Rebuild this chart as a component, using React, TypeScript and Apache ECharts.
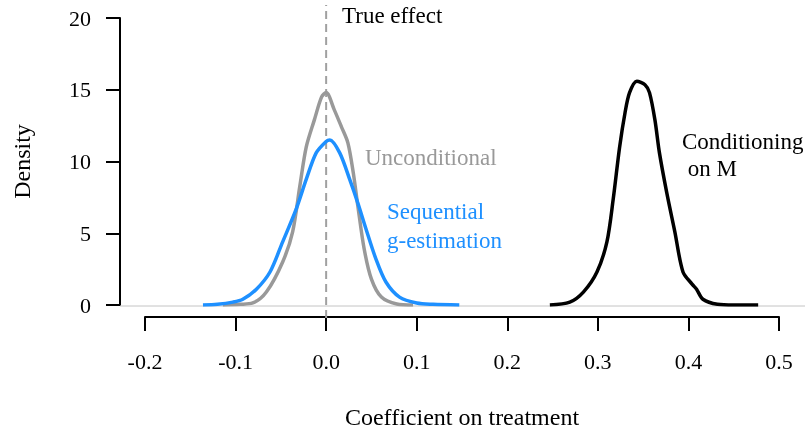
import React, { useEffect, useRef } from "react";
import * as echarts from "echarts";

// Unconditional (gray) density curve: [coefficient, density]
const uncondX = [-0.114, -0.095, -0.081, -0.066, -0.048, -0.037, -0.029, -0.022, -0.013, -0.005, 0.0, 0.009, 0.017, 0.024, 0.03, 0.035, 0.042, 0.05, 0.061, 0.078, 0.096];
const uncondY = [0.0, 0.05, 0.14, 0.9, 3.0, 5.1, 8.3, 11.0, 12.9, 14.5, 14.8, 13.6, 12.4, 11.3, 9.2, 6.9, 3.9, 1.8, 0.55, 0.07, 0.0];

// Sequential g-estimation (blue) density curve
const seqX = [-0.136, -0.12, -0.103, -0.092, -0.077, -0.062, -0.048, -0.033, -0.022, -0.011, 0.0, 0.004, 0.015, 0.026, 0.035, 0.044, 0.055, 0.066, 0.081, 0.1, 0.118, 0.147];
const seqY = [0.0, 0.05, 0.2, 0.4, 1.1, 2.3, 4.4, 6.7, 8.75, 10.6, 11.4, 11.5, 10.6, 8.75, 7.1, 5.3, 3.2, 1.6, 0.55, 0.14, 0.05, 0.0];

// Conditioning on M (black) density curve
const condX = [0.247, 0.269, 0.284, 0.299, 0.31, 0.317, 0.324, 0.33, 0.335, 0.343, 0.352, 0.357, 0.363, 0.368, 0.376, 0.385, 0.394, 0.404, 0.409, 0.416, 0.432, 0.45, 0.477];
const condY = [0.0, 0.2, 0.9, 2.3, 4.4, 7.4, 11.0, 13.4, 14.8, 15.6, 15.35, 14.8, 12.9, 10.6, 7.85, 5.1, 2.3, 1.46, 1.1, 0.4, 0.05, 0.0, 0.0];

// Axes
const xTicks = [-0.2, -0.1, 0.0, 0.1, 0.2, 0.3, 0.4, 0.5];
const yTicks = [0, 5, 10, 15, 20];
const trueEffect = 0.0;

const FONT = "'Liberation Serif', 'Times New Roman', serif";

// layout (pixels)
const W = 812;
const H = 434;
const plotLeft = 145;
const plotRight = 779;
const plotTop = 18;
const plotBottom = 306;
const outerLeft = 120;
const outerRight = 805;
const outerTop = 5;
const outerBottom = 318;

const zip = (xs: number[], ys: number[]) => xs.map((x, i) => [x, ys[i]]);

export default function App() {
  const ref = useRef<HTMLDivElement>(null);
  useEffect(() => {
    if (!ref.current) return;
    const chart = echarts.init(ref.current, null, { renderer: "svg" });
    const xMin = xTicks[0];
    const xMax = xTicks[xTicks.length - 1];
    const yMin = yTicks[0];
    const yMax = yTicks[yTicks.length - 1];
    const pxX = (plotRight - plotLeft) / (xMax - xMin);
    const pxY = (plotBottom - plotTop) / (yMax - yMin);
    const x1Min = xMin - (plotLeft - outerLeft) / pxX;
    const x1Max = xMax + (outerRight - plotRight) / pxX;
    const y1Min = yMin - (outerBottom - plotBottom) / pxY;
    const y1Max = yMax + (plotTop - outerTop) / pxY;

    const lineStyleBase = { width: 3.5 };
    chart.setOption({
      animation: false,
      textStyle: { fontFamily: FONT },
      grid: [
        { left: plotLeft, right: W - plotRight, top: plotTop, bottom: H - plotBottom },
        { left: outerLeft, right: W - outerRight, top: outerTop, bottom: H - outerBottom },
      ],
      xAxis: [
        {
          gridIndex: 0,
          type: "value",
          min: xMin,
          max: xMax,
          interval: 0.1,
          offset: 12,
          axisLine: { show: true, onZero: false, lineStyle: { color: "#000", width: 2 } },
          axisTick: { show: true, length: 14, lineStyle: { color: "#000", width: 2 } },
          axisLabel: {
            color: "#000",
            fontSize: 22,
            fontFamily: FONT,
            margin: 33,
            formatter: (v: number) => v.toFixed(1),
          },
          splitLine: { show: false },
          name: "Coefficient on treatment",
          nameLocation: "middle",
          nameGap: 88,
          nameTextStyle: { color: "#000", fontSize: 24, fontFamily: FONT },
        },
        {
          gridIndex: 1,
          type: "value",
          min: x1Min,
          max: x1Max,
          show: false,
        },
      ],
      yAxis: [
        {
          gridIndex: 0,
          type: "value",
          min: yMin,
          max: yMax,
          interval: 5,
          offset: 25,
          axisLine: { show: true, onZero: false, lineStyle: { color: "#000", width: 2 } },
          axisTick: { show: true, length: 14, lineStyle: { color: "#000", width: 2 } },
          axisLabel: { color: "#000", fontSize: 22, fontFamily: FONT, margin: 29 },
          splitLine: { show: false },
          name: "Density",
          nameLocation: "middle",
          nameGap: 86,
          nameTextStyle: { color: "#000", fontSize: 24, fontFamily: FONT },
        },
        {
          gridIndex: 1,
          type: "value",
          min: y1Min,
          max: y1Max,
          show: false,
        },
      ],
      series: [
        {
          type: "line",
          xAxisIndex: 1,
          yAxisIndex: 1,
          data: [
            [x1Min, 0],
            [x1Max, 0],
          ],
          symbol: "none",
          lineStyle: { color: "#c4c4c4", width: 1 },
          z: 1,
          silent: true,
        },
        {
          type: "line",
          xAxisIndex: 1,
          yAxisIndex: 1,
          data: [
            [trueEffect, y1Min],
            [trueEffect, y1Max],
          ],
          symbol: "none",
          lineStyle: { color: "#a0a0a0", width: 2, type: [8, 5] },
          z: 1,
          silent: true,
        },
        {
          type: "line",
          data: zip(uncondX, uncondY),
          symbol: "none",
          smooth: 0.3,
          lineStyle: { ...lineStyleBase, color: "#999999" },
          z: 3,
        },
        {
          type: "line",
          data: zip(seqX, seqY),
          symbol: "none",
          smooth: 0.3,
          lineStyle: { ...lineStyleBase, color: "#1e90ff" },
          z: 4,
        },
        {
          type: "line",
          data: zip(condX, condY),
          symbol: "none",
          smooth: 0.3,
          lineStyle: { ...lineStyleBase, color: "#000000" },
          z: 5,
        },
      ],
      graphic: [
        { type: "text", left: 342, top: 4, style: { text: "True effect", fill: "#000", font: `23px ${FONT}` } },
        { type: "text", left: 365, top: 146, style: { text: "Unconditional", fill: "#999999", font: `23px ${FONT}` } },
        { type: "text", left: 387, top: 200, style: { text: "Sequential", fill: "#1e90ff", font: `23px ${FONT}` } },
        { type: "text", left: 387, top: 229, style: { text: "g-estimation", fill: "#1e90ff", font: `23px ${FONT}` } },
        { type: "text", x: 682, y: 130, style: { text: "Conditioning", fill: "#000", font: `23px ${FONT}` } },
        { type: "text", x: 682, y: 157, style: { text: " on M", fill: "#000", font: `23px ${FONT}` } },
      ],
    });
    return () => chart.dispose();
  }, []);
  return <div ref={ref} style={{ position: "fixed", left: 0, top: 0, width: W, height: H }} />;
}
